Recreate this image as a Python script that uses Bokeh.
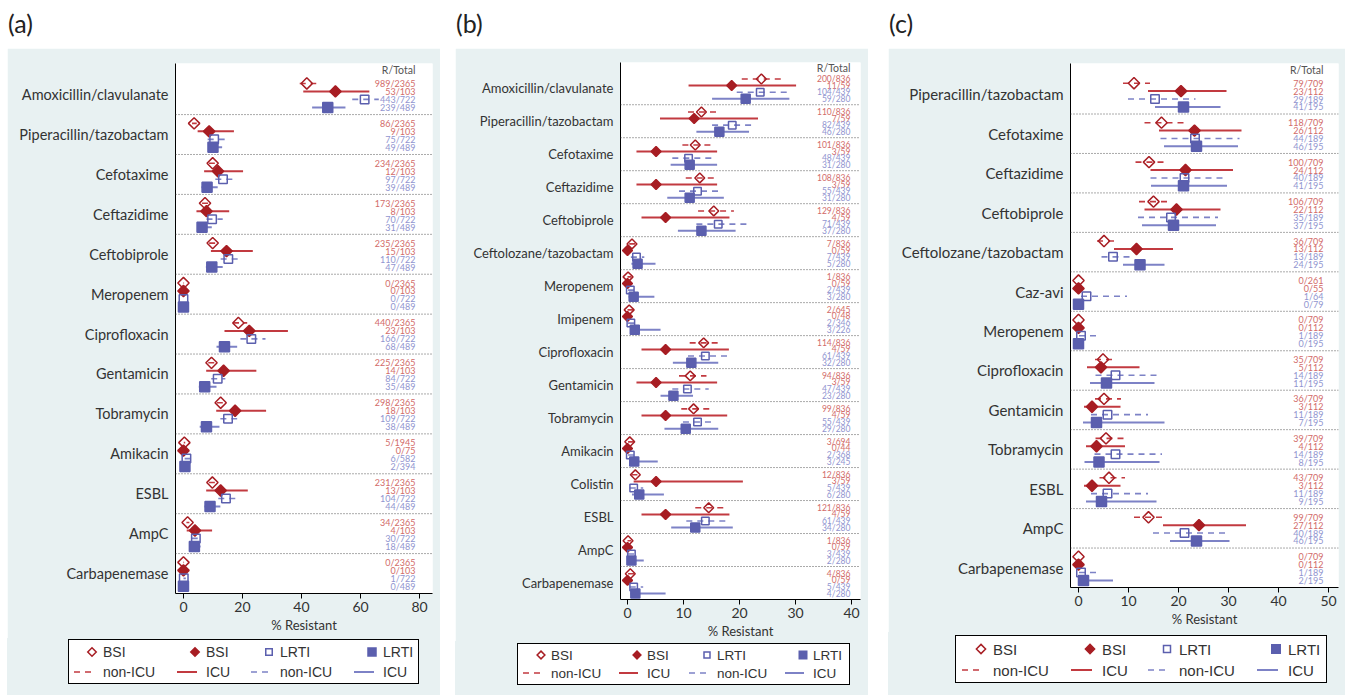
import math
from bokeh.plotting import figure
from bokeh.models import (ColumnDataSource, FixedTicker, Span, Range1d, Div, Spacer)
from bokeh.layouts import row, column
from bokeh.embed import file_html
from bokeh.resources import INLINE
from bokeh.core.properties import value

FONT = "Lato"
TEAL = "#e8f1f2"
RED_MK = "#a71d23"
RED_LN = "#c23a40"
RED_TX = "#d26b69"
BLU_MK = "#5b5fae"
BLU_LN = "#7d82c6"
BLU_TX = "#9195d0"
TXT = "#333333"

# ---------------- Panel (a) ----------------
a_categories = ["Amoxicillin/clavulanate", "Piperacillin/tazobactam", "Cefotaxime", "Ceftazidime",
                "Ceftobiprole", "Meropenem", "Ciprofloxacin", "Gentamicin", "Tobramycin",
                "Amikacin", "ESBL", "AmpC", "Carbapenemase"]
a_bsi_non_n = ["989/2365", "86/2365", "234/2365", "173/2365", "235/2365", "0/2365", "440/2365",
               "225/2365", "298/2365", "5/1945", "231/2365", "34/2365", "0/2365"]
a_bsi_non_pct = [41.8, 3.6, 9.9, 7.3, 9.9, 0.0, 18.6, 9.5, 12.6, 0.3, 9.8, 1.4, 0.0]
a_bsi_non_lo = [39.4, 2.9, 8.6, 6.3, 8.7, 0.0, 16.8, 8.4, 11.3, 0.1, 8.6, 1.0, 0.0]
a_bsi_non_hi = [45.0, 4.5, 11.4, 8.5, 11.2, 0.2, 21.6, 10.8, 14.0, 0.6, 11.0, 2.0, 0.2]
a_bsi_icu_n = ["53/103", "9/103", "12/103", "8/103", "15/103", "0/103", "23/103", "14/103",
               "18/103", "0/75", "13/103", "4/103", "0/103"]
a_bsi_icu_pct = [51.5, 8.7, 11.7, 7.8, 14.6, 0.0, 22.3, 13.6, 17.5, 0.0, 12.6, 3.9, 0.0]
a_bsi_icu_lo = [40.6, 4.8, 7.0, 4.4, 9.3, 0.0, 13.9, 7.7, 11.1, 0.0, 7.7, 1.1, 0.0]
a_bsi_icu_hi = [63.0, 17.1, 20.2, 15.5, 23.5, 0.0, 35.4, 24.7, 28.0, 0.0, 21.8, 9.7, 0.0]
a_lrti_non_n = ["443/722", "75/722", "97/722", "70/722", "110/722", "0/722", "166/722", "84/722",
                "109/722", "6/582", "104/722", "30/722", "1/722"]
a_lrti_non_pct = [61.4, 10.4, 13.4, 9.7, 15.2, 0.0, 23.0, 11.6, 15.1, 1.0, 14.4, 4.2, 0.1]
a_lrti_non_lo = [57.2, 8.2, 10.8, 7.8, 12.6, 0.0, 19.3, 9.4, 12.5, 0.4, 11.8, 2.8, 0.0]
a_lrti_non_hi = [66.2, 14.5, 17.4, 13.3, 19.1, 0.0, 27.8, 14.2, 18.2, 2.2, 18.5, 5.9, 0.8]
a_lrti_icu_n = ["239/489", "49/489", "39/489", "31/489", "47/489", "0/489", "68/489", "35/489",
                "38/489", "2/394", "44/489", "18/489", "0/489"]
a_lrti_icu_pct = [48.9, 10.0, 8.0, 6.3, 9.6, 0.0, 13.9, 7.2, 7.8, 0.5, 9.0, 3.7, 0.0]
a_lrti_icu_lo = [43.6, 8.4, 6.1, 4.9, 7.6, 0.0, 11.2, 5.2, 5.5, 0.1, 7.1, 2.2, 0.0]
a_lrti_icu_hi = [54.9, 13.1, 11.6, 9.6, 13.3, 0.0, 18.2, 11.2, 12.2, 1.8, 12.5, 5.8, 0.0]
a_ticks = [0, 20, 40, 60, 80]

# ---------------- Panel (b) ----------------
b_categories = ["Amoxicillin/clavulanate", "Piperacillin/tazobactam", "Cefotaxime", "Ceftazidime",
                "Ceftobiprole", "Ceftolozane/tazobactam", "Meropenem", "Imipenem", "Ciprofloxacin",
                "Gentamicin", "Tobramycin", "Amikacin", "Colistin", "ESBL", "AmpC", "Carbapenemase"]
b_bsi_non_n = ["200/836", "110/836", "101/836", "108/836", "129/836", "7/836", "1/836", "2/645",
               "114/836", "94/836", "99/836", "3/694", "12/836", "121/836", "1/836", "4/836"]
b_bsi_non_pct = [23.9, 13.2, 12.1, 12.9, 15.4, 0.8, 0.1, 0.3, 13.6, 11.2, 11.8, 0.4, 1.4, 14.5, 0.1, 0.5]
b_bsi_non_lo = [20.4, 10.8, 9.8, 10.4, 12.6, 0.3, 0.0, 0.0, 11.1, 9.2, 9.6, 0.1, 0.7, 12.1, 0.0, 0.1]
b_bsi_non_hi = [27.9, 16.2, 15.1, 15.9, 19.0, 1.7, 0.7, 1.1, 16.6, 14.1, 14.6, 1.3, 2.5, 17.5, 0.7, 1.2]
b_bsi_icu_n = ["11/59", "7/59", "3/59", "3/59", "4/59", "0/59", "0/59", "0/48", "4/59", "3/59",
               "4/59", "0/44", "3/59", "4/59", "0/59", "0/59"]
b_bsi_icu_pct = [18.6, 11.9, 5.1, 5.1, 6.8, 0.0, 0.0, 0.0, 6.8, 5.1, 6.8, 0.0, 5.1, 6.8, 0.0, 0.0]
b_bsi_icu_lo = [10.9, 5.8, 1.6, 1.6, 2.5, 0.0, 0.0, 0.0, 2.5, 1.6, 2.5, 0.0, 1.1, 2.5, 0.0, 0.0]
b_bsi_icu_hi = [30.1, 23.3, 16.0, 16.0, 18.2, 0.0, 0.0, 0.0, 18.1, 16.0, 17.8, 0.0, 20.6, 18.2, 0.0, 0.0]
b_lrti_non_n = ["104/439", "82/439", "48/439", "55/439", "71/439", "7/439", "2/439", "2/346",
                "61/439", "47/439", "55/439", "2/368", "5/439", "61/439", "3/439", "5/439"]
b_lrti_non_pct = [23.7, 18.7, 10.9, 12.5, 16.2, 1.6, 0.5, 0.6, 13.9, 10.7, 12.5, 0.5, 1.1, 13.9, 0.7, 1.1]
b_lrti_non_lo = [19.5, 15.1, 8.0, 9.2, 12.3, 0.6, 0.1, 0.1, 10.8, 8.0, 9.9, 0.1, 0.4, 10.5, 0.1, 0.4]
b_lrti_non_hi = [28.7, 22.7, 15.0, 16.8, 21.3, 3.0, 1.6, 1.8, 17.9, 14.5, 15.4, 1.9, 2.8, 18.1, 1.9, 2.8]
b_lrti_icu_n = ["59/280", "46/280", "31/280", "31/280", "37/280", "5/280", "3/280", "3/226",
                "32/280", "23/280", "29/280", "3/245", "6/280", "34/280", "2/280", "4/280"]
b_lrti_icu_pct = [21.1, 16.4, 11.1, 11.1, 13.2, 1.8, 1.1, 1.3, 11.4, 8.2, 10.4, 1.2, 2.1, 12.1, 0.7, 1.4]
b_lrti_icu_lo = [15.1, 12.3, 7.7, 7.1, 9.0, 0.7, 0.2, 0.5, 8.1, 5.9, 6.6, 0.3, 0.8, 7.8, 0.1, 0.5]
b_lrti_icu_hi = [28.9, 21.7, 16.0, 17.2, 19.3, 5.0, 4.8, 5.9, 16.2, 11.7, 16.2, 5.4, 6.5, 18.8, 2.9, 6.8]
b_ticks = [0, 10, 20, 30, 40]

# ---------------- Panel (c) ----------------
c_categories = ["Piperacillin/tazobactam", "Cefotaxime", "Ceftazidime", "Ceftobiprole",
                "Ceftolozane/tazobactam", "Caz-avi", "Meropenem", "Ciprofloxacin", "Gentamicin",
                "Tobramycin", "ESBL", "AmpC", "Carbapenemase"]
c_bsi_non_n = ["79/709", "118/709", "100/709", "106/709", "36/709", "0/261", "0/709", "35/709",
               "36/709", "39/709", "43/709", "99/709", "0/709"]
c_bsi_non_pct = [11.1, 16.6, 14.1, 15.0, 5.1, 0.0, 0.0, 4.9, 5.1, 5.5, 6.1, 14.0, 0.0]
c_bsi_non_lo = [8.9, 13.2, 11.4, 12.1, 3.7, 0.0, 0.0, 3.3, 3.3, 3.4, 4.2, 11.1, 0.0]
c_bsi_non_hi = [14.3, 21.1, 17.6, 18.7, 7.3, 0.0, 0.0, 7.4, 8.5, 9.3, 9.3, 17.7, 0.0]
c_bsi_icu_n = ["23/112", "26/112", "24/112", "22/112", "13/112", "0/55", "0/112", "5/112",
               "3/112", "4/112", "3/112", "27/112", "0/112"]
c_bsi_icu_pct = [20.5, 23.2, 21.4, 19.6, 11.6, 0.0, 0.0, 4.5, 2.7, 3.6, 2.7, 24.1, 0.0]
c_bsi_icu_lo = [13.9, 16.1, 14.4, 13.2, 7.1, 0.0, 0.0, 1.7, 1.1, 1.5, 1.1, 16.9, 0.0]
c_bsi_icu_hi = [29.6, 32.6, 30.9, 28.4, 18.9, 0.0, 0.0, 12.2, 8.4, 9.3, 8.4, 33.5, 0.0]
c_lrti_non_n = ["29/189", "44/189", "40/189", "35/189", "13/189", "1/64", "1/189", "14/189",
                "11/189", "14/189", "11/189", "40/189", "1/189"]
c_lrti_non_pct = [15.3, 23.3, 21.2, 18.5, 6.9, 1.6, 0.5, 7.4, 5.8, 7.4, 5.8, 21.2, 0.5]
c_lrti_non_lo = [9.9, 16.4, 14.4, 11.9, 4.6, 0.5, 0.1, 3.4, 2.5, 3.2, 2.5, 14.9, 0.1]
c_lrti_non_hi = [23.4, 32.2, 29.6, 27.9, 10.6, 9.7, 4.1, 16.3, 13.9, 16.7, 13.9, 29.3, 4.1]
c_lrti_icu_n = ["41/195", "46/195", "41/195", "37/195", "24/195", "0/79", "0/195", "11/195",
                "7/195", "8/195", "9/195", "46/195", "2/195"]
c_lrti_icu_pct = [21.0, 23.6, 21.0, 19.0, 12.3, 0.0, 0.0, 5.6, 3.6, 4.1, 4.6, 23.6, 1.0]
c_lrti_icu_lo = [15.3, 17.1, 14.5, 12.7, 8.9, 0.0, 0.0, 2.3, 0.9, 1.2, 1.5, 18.3, 0.1]
c_lrti_icu_hi = [28.4, 31.9, 29.7, 27.5, 17.2, 0.0, 0.0, 15.2, 17.2, 16.2, 15.6, 30.2, 6.9]
c_ticks = [0, 10, 20, 30, 40, 50]

legend_markers = ["BSI", "BSI", "LRTI", "LRTI"]
legend_lines = ["non-ICU", "ICU", "non-ICU", "ICU"]

STYLES = [
    dict(mfill=None, mline=RED_MK, lcol=RED_LN, dash="6 5", lw=1.6, tcol=RED_TX, kind="d"),
    dict(mfill=RED_MK, mline=RED_MK, lcol=RED_LN, dash="solid", lw=2.0, tcol=RED_TX, kind="d"),
    dict(mfill=None, mline=BLU_MK, lcol=BLU_LN, dash="6 5", lw=1.6, tcol=BLU_TX, kind="s"),
    dict(mfill=BLU_MK, mline=BLU_MK, lcol=BLU_LN, dash="solid", lw=2.0, tcol=BLU_TX, kind="s"),
]


def draw_marker(p, st, src, x, y, dsize, ssize):
    if st["kind"] == "d":
        return p.scatter(x=x, y=y, source=src, marker="square", angle=math.pi / 4,
                         size=dsize, fill_color=st["mfill"], line_color=st["mline"],
                         line_width=1.5)
    return p.scatter(x=x, y=y, source=src, marker="square",
                     size=ssize if st["mfill"] else ssize - 1.5,
                     fill_color=st["mfill"], line_color=st["mline"], line_width=1.5)


def panel(cats, series, xr, ticks, fw, fh, bl, br, bt, bb, lab_fs, cnt_x, cnt_fs,
          dsize, ssize):
    n = len(cats)
    p = figure(frame_width=fw, frame_height=fh, x_range=Range1d(*xr),
               y_range=Range1d(-10 * n, 2.8), output_backend="svg", toolbar_location=None,
               min_border_left=bl, min_border_right=br, min_border_top=bt, min_border_bottom=bb)
    p.background_fill_color = "white"
    p.border_fill_color = TEAL
    p.outline_line_color = None
    p.grid.visible = False

    yt = [-10 * i - 5 for i in range(n)]
    p.yaxis.ticker = FixedTicker(ticks=yt)
    p.yaxis.major_label_overrides = {t: c for t, c in zip(yt, cats)}
    p.yaxis.major_tick_line_color = None
    p.yaxis.major_tick_out = 0
    p.yaxis.major_tick_in = 0
    p.yaxis.minor_tick_line_color = None
    p.yaxis.axis_line_color = "black"
    p.yaxis.major_label_text_font_size = lab_fs
    p.yaxis.major_label_text_font = FONT
    p.yaxis.major_label_text_color = TXT
    p.yaxis.major_label_standoff = 7

    p.xaxis.ticker = FixedTicker(ticks=ticks)
    p.xaxis.minor_tick_line_color = None
    p.xaxis.major_tick_in = 0
    p.xaxis.major_tick_out = 5
    p.xaxis.axis_line_color = "black"
    p.xaxis.major_label_text_font_size = "14px"
    p.xaxis.major_label_text_font = FONT
    p.xaxis.major_label_text_color = TXT
    p.xaxis.major_label_standoff = 3
    p.xaxis.axis_label = "% Resistant"
    p.xaxis.axis_label_text_font_style = "normal"
    p.xaxis.axis_label_text_font_size = "13px"
    p.xaxis.axis_label_text_font = FONT
    p.xaxis.axis_label_text_color = TXT
    p.xaxis.axis_label_standoff = 2

    for i in range(1, n):
        p.add_layout(Span(location=-10 * i, dimension="width", line_color="#555555",
                          line_dash="1 2", line_width=1))

    for j, ((pct, lo, hi, cnt), st) in enumerate(zip(series, STYLES)):
        ys = [-(10 * i + 2.2 + 2 * j) for i in range(n)]
        src = ColumnDataSource(dict(pct=pct, lo=lo, hi=hi, y=ys, cnt=cnt))
        p.segment(x0="lo", y0="y", x1="hi", y1="y", source=src, line_color=st["lcol"],
                  line_width=st["lw"], line_dash=st["dash"])
        draw_marker(p, st, src, "pct", "y", dsize, ssize)
        p.text(x=cnt_x, y="y", text="cnt", source=src, text_align="right",
               text_baseline="middle", text_font_size=cnt_fs, text_color=st["tcol"],
               text_font=value(FONT))
    p.text(x=[cnt_x], y=[1.2], text=["R/Total"], text_align="right", text_baseline="middle",
           text_font_size="10.5px", text_color="#555555", text_font=value(FONT))
    return p


def legend_div(total_w, total_h, bl, bt, box_w, box_h, txt_x, row_y, mk_off, ln0, ln1,
               fs, dsize, ssize):
    parts = [f'<svg xmlns="http://www.w3.org/2000/svg" width="{total_w}" height="{total_h}" '
             f'style="display:block">',
             f'<rect x="0" y="0" width="{total_w}" height="{total_h}" fill="{TEAL}"/>',
             f'<rect x="{bl + 0.5}" y="{bt + 0.5}" width="{box_w}" height="{box_h}" '
             f'fill="white" stroke="black" stroke-width="1"/>']
    for k, st in enumerate(STYLES):
        cx = bl + txt_x[k] - mk_off
        cy = bt + row_y[0]
        fill = st["mfill"] or "none"
        if st["kind"] == "d":
            r = dsize * math.sqrt(2) / 2
            pts = f"{cx},{cy - r} {cx + r},{cy} {cx},{cy + r} {cx - r},{cy}"
            parts.append(f'<polygon points="{pts}" fill="{fill}" stroke="{st["mline"]}" '
                         f'stroke-width="1.5"/>')
        else:
            s = ssize if st["mfill"] else ssize - 1.5
            parts.append(f'<rect x="{cx - s / 2}" y="{cy - s / 2}" width="{s}" height="{s}" '
                         f'fill="{fill}" stroke="{st["mline"]}" stroke-width="1.5"/>')
        ly = bt + row_y[1]
        dash = "" if st["dash"] == "solid" else f' stroke-dasharray="{st["dash"]}"'
        parts.append(f'<line x1="{bl + txt_x[k] - ln0}" y1="{ly}" x2="{bl + txt_x[k] - ln1}" '
                     f'y2="{ly}" stroke="{st["lcol"]}" stroke-width="{st["lw"]}"{dash}/>')
        for lab, yy in ((legend_markers[k], cy), (legend_lines[k], ly)):
            parts.append(f'<text x="{bl + txt_x[k]}" y="{yy}" font-family="{FONT}" '
                         f'font-size="{fs}" fill="{TXT}" dominant-baseline="central">{lab}</text>')
    parts.append('</svg>')
    return Div(text="".join(parts), width=total_w, height=total_h, margin=0,
               styles={"line-height": "0"})


fa = panel(a_categories,
           [(a_bsi_non_pct, a_bsi_non_lo, a_bsi_non_hi, a_bsi_non_n),
            (a_bsi_icu_pct, a_bsi_icu_lo, a_bsi_icu_hi, a_bsi_icu_n),
            (a_lrti_non_pct, a_lrti_non_lo, a_lrti_non_hi, a_lrti_non_n),
            (a_lrti_icu_pct, a_lrti_icu_lo, a_lrti_icu_hi, a_lrti_icu_n)],
           (-2.7, 84.4), a_ticks, 257, 530, 168, 8, 15, 45, "14.5px", 78.6, "9px", 8, 10)
la = legend_div(433, 57, 61, 1, 350, 44, [35, 138, 212, 315], [13, 33], 11, 29, 9,
                14, 6, 8)

fb = panel(b_categories,
           [(b_bsi_non_pct, b_bsi_non_lo, b_bsi_non_hi, b_bsi_non_n),
            (b_bsi_icu_pct, b_bsi_icu_lo, b_bsi_icu_hi, b_bsi_icu_n),
            (b_lrti_non_pct, b_lrti_non_lo, b_lrti_non_hi, b_lrti_non_n),
            (b_lrti_icu_pct, b_lrti_icu_lo, b_lrti_icu_hi, b_lrti_icu_n)],
           (-1.25, 41.6), b_ticks, 240, 537, 165, 8, 14, 42, "13px", 39.8, "8.5px", 7, 9)
lb = legend_div(413, 54, 62, 2, 332, 41, [34, 130, 200, 296], [12, 30], 10, 28, 9,
                13.5, 5.5, 7.5)

fc = panel(c_categories,
           [(c_bsi_non_pct, c_bsi_non_lo, c_bsi_non_hi, c_bsi_non_n),
            (c_bsi_icu_pct, c_bsi_icu_lo, c_bsi_icu_hi, c_bsi_icu_n),
            (c_lrti_non_pct, c_lrti_non_lo, c_lrti_non_hi, c_lrti_non_n),
            (c_lrti_icu_pct, c_lrti_icu_lo, c_lrti_icu_hi, c_lrti_icu_n)],
           (-1.6, 52.0), c_ticks, 268, 524, 182, 7, 15, 45, "15px", 49.0, "9px", 8, 10)
lc = legend_div(457, 63, 67, 3, 371, 47, [38, 147, 224, 333], [14, 35], 12, 31, 10,
                15, 6.5, 8.5)


def label(txt, w):
    return Div(text=txt, width=w, height=48, margin=0,
               styles={"font-size": "25px", "font-family": FONT, "color": "#222222",
                       "line-height": "25px", "padding-top": "11px", "padding-left": "1px"})


layout = row(Spacer(width=7), column(label("(a)", 433), fa, la), Spacer(width=15),
             column(label("(b)", 413), fb, lb), Spacer(width=20),
             column(label("(c)", 457), fc, lc))

open("out.html", "w").write(file_html(layout, INLINE))
